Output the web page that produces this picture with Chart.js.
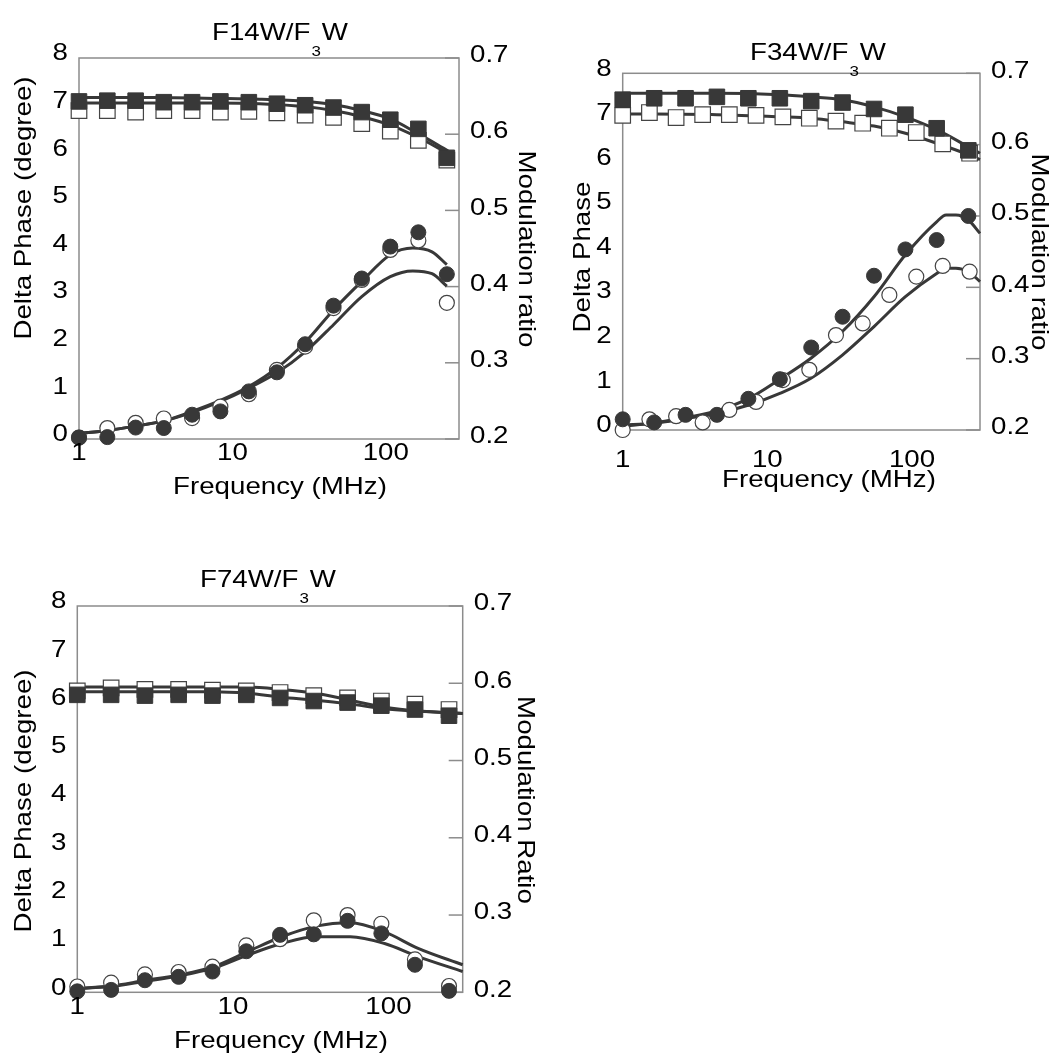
<!DOCTYPE html>
<html>
<head>
<meta charset="utf-8">
<title>Delta phase and modulation ratio vs frequency</title>
<script src="https://cdn.jsdelivr.net/npm/chart.js@4.4.1/dist/chart.umd.min.js"></script>
<style>
  body { margin: 0; background: #fff; }
  #wrap { position: relative; width: 1054px; height: 1063px; }
  canvas { position: absolute; }
</style>
</head>
<body>
<div id="wrap">
  <canvas id="c14" style="left:0;top:0" width="545" height="505"></canvas>
  <canvas id="c34" style="left:540px;top:0" width="514" height="500"></canvas>
  <canvas id="c74" style="left:0;top:530px" width="545" height="533"></canvas>
</div>
<script>
// modulation frequencies (MHz)
const freqA = [1, 1.53, 2.34, 3.57, 5.46, 8.35, 12.8, 19.5, 29.8, 45.6, 69.7, 107, 163, 250];
const freqB = [1, 1.65, 2.72, 4.48, 7.39, 12.2, 20.1, 33.1, 54.6, 90, 148, 245];
const xTickValues = [1, 10, 100];

// F14W/F3W
const p1SqFilled = [0.643, 0.644, 0.644, 0.642, 0.642, 0.643, 0.642, 0.640, 0.638, 0.635, 0.629, 0.619, 0.607, 0.569];
const p1SqOpen = [0.631, 0.631, 0.629, 0.631, 0.631, 0.629, 0.630, 0.628, 0.625, 0.622, 0.614, 0.604, 0.592, 0.566];
const p1CircFilled = [0.03, 0.04, 0.24, 0.23, 0.51, 0.58, 1.00, 1.40, 1.99, 2.80, 3.37, 4.04, 4.34, 3.46];
const p1CircOpen = [0.03, 0.23, 0.34, 0.43, 0.44, 0.68, 0.94, 1.45, 1.94, 2.75, 3.34, 3.97, 4.17, 2.86];
const p1SqFitF = [1, 3, 8, 15, 30.5, 45.6, 69.7, 107, 158, 255];
const p1SqFitHi = [0.648, 0.648, 0.647, 0.646, 0.643, 0.639, 0.631, 0.620, 0.602, 0.578];
const p1SqFitLo = [0.641, 0.641, 0.641, 0.640, 0.636, 0.631, 0.623, 0.612, 0.597, 0.575];
const p1CircFitF = [1, 1.53, 2.34, 3.57, 5.46, 8.35, 12.8, 19.5, 29.8, 45.6, 69.7, 107, 150, 200, 250];
const p1CircFitHi = [0.12, 0.18, 0.27, 0.38, 0.58, 0.81, 1.10, 1.49, 2.03, 2.71, 3.31, 3.87, 4.01, 3.93, 3.66];
const p1CircFitLo = [0.12, 0.18, 0.27, 0.38, 0.56, 0.79, 1.07, 1.39, 1.83, 2.40, 2.99, 3.41, 3.53, 3.47, 3.21];

// F34W/F3W
const p2SqFilled = [0.663, 0.665, 0.665, 0.667, 0.665, 0.665, 0.661, 0.659, 0.650, 0.642, 0.623, 0.592];
const p2SqOpen = [0.641, 0.645, 0.638, 0.642, 0.642, 0.641, 0.639, 0.637, 0.633, 0.630, 0.623, 0.617, 0.601, 0.588];
const p2CircFilled = [0.24, 0.17, 0.34, 0.34, 0.70, 1.14, 1.85, 2.54, 3.46, 4.05, 4.26, 4.80];
const p2CircOpen = [0.00, 0.24, 0.31, 0.17, 0.45, 0.63, 1.12, 1.35, 2.13, 2.39, 3.03, 3.44, 3.68, 3.55];
const p2SqFitF = [1, 4.47, 12.2, 20, 33, 54.6, 90, 148, 245, 295];
const p2SqFitHi = [0.672, 0.672, 0.670, 0.667, 0.663, 0.653, 0.639, 0.621, 0.597, 0.588];
const p2SqFitLo = [0.643, 0.642, 0.639, 0.637, 0.632, 0.626, 0.616, 0.602, 0.586, 0.579];
const p2CircFitF = [1, 1.65, 2.74, 4.47, 7.44, 12.2, 20, 33, 54.6, 90, 148, 172, 201, 245, 295];
const p2CircFitHi = [0.11, 0.16, 0.28, 0.43, 0.71, 1.14, 1.61, 2.21, 2.99, 3.93, 4.67, 4.82, 4.82, 4.71, 4.41];
const p2CircFitLo = [0.09, 0.15, 0.26, 0.37, 0.56, 0.82, 1.16, 1.68, 2.32, 2.99, 3.51, 3.63, 3.63, 3.55, 3.33];

// F74W/F3W
const p3SqFilled = [0.585, 0.585, 0.584, 0.585, 0.584, 0.585, 0.581, 0.577, 0.575, 0.571, 0.566, 0.558];
const p3SqOpen = [0.590, 0.594, 0.592, 0.592, 0.591, 0.590, 0.588, 0.584, 0.581, 0.577, 0.573, 0.566];
const p3CircFilled = [0.02, 0.05, 0.25, 0.32, 0.43, 0.85, 1.19, 1.20, 1.48, 1.22, 0.57, 0.03];
const p3CircOpen = [0.12, 0.20, 0.37, 0.42, 0.53, 0.97, 1.10, 1.49, 1.60, 1.42, 0.68, 0.13];
const p3SqFitF = [1, 2.74, 7.5, 12.4, 20.6, 34.2, 56.8, 94.4, 155, 300];
const p3SqFitHi = [0.595, 0.595, 0.595, 0.595, 0.592, 0.587, 0.578, 0.569, 0.564, 0.561];
const p3SqFitLo = [0.589, 0.589, 0.589, 0.587, 0.582, 0.578, 0.573, 0.567, 0.564, 0.561];
const p3CircFitF = [1, 1.64, 2.66, 4.53, 7.5, 12.4, 20.6, 34.2, 56.8, 94.4, 155, 300];
const p3CircFitHi = [0.08, 0.13, 0.24, 0.36, 0.53, 0.84, 1.15, 1.37, 1.44, 1.25, 0.91, 0.57];
const p3CircFitLo = [0.08, 0.12, 0.22, 0.34, 0.50, 0.77, 1.01, 1.15, 1.15, 1.01, 0.74, 0.43];

const FONT_FAMILY = '"Liberation Sans", Arial, sans-serif';
const TEXT_SIZE = 24.5;
const TEXT_STRETCH = 1.13; // the lettering is a bit wider than Arial
const INK = '#383838';
const FRAME = '#8c8c8c';

function pts(xs, ys) {
  return xs.map((x, i) => ({ x: x, y: ys[i] }));
}

function marks(xs, ys, axis, shape, filled) {
  return {
    data: pts(xs, ys),
    yAxisID: axis,
    showLine: false,
    pointStyle: shape,
    pointRadius: shape === 'rect' ? 11 : 7.5,
    pointBackgroundColor: filled ? INK : '#fff',
    pointBorderColor: filled ? INK : '#444',
    pointBorderWidth: filled ? 1 : 1.2,
    clip: false,
    order: filled ? 1 : 2
  };
}

function fit(xs, ys, axis) {
  return {
    data: pts(xs, ys),
    yAxisID: axis,
    showLine: true,
    pointRadius: 0,
    borderColor: INK,
    borderWidth: 3,
    cubicInterpolationMode: 'monotone',
    fill: false,
    clip: false,
    order: 3
  };
}

function stretchedText(ctx, str, x, y, opt) {
  ctx.save();
  ctx.translate(x, y);
  if (opt.rotate) ctx.rotate(opt.rotate);
  ctx.scale(TEXT_STRETCH, 1);
  ctx.font = (opt.size || TEXT_SIZE) + 'px ' + FONT_FAMILY;
  ctx.textAlign = opt.align || 'center';
  ctx.textBaseline = opt.baseline || 'middle';
  ctx.fillStyle = '#000';
  ctx.fillText(str, 0, 0);
  ctx.restore();
}

function textWidth(ctx, str, size) {
  ctx.save();
  ctx.font = size + 'px ' + FONT_FAMILY;
  const w = ctx.measureText(str).width * TEXT_STRETCH;
  ctx.restore();
  return w;
}

// frame, inward ticks on the right axis, tick labels and titles
function panelDecor(p) {
  return {
    id: 'panelDecor',
    beforeDatasetsDraw(chart) {
      const { ctx, chartArea: a, scales } = chart;
      ctx.save();
      ctx.strokeStyle = FRAME;
      ctx.lineWidth = 1.5;
      ctx.strokeRect(a.left, a.top, a.right - a.left, a.bottom - a.top);
      scales.y2.ticks.forEach(t => {
        const py = scales.y2.getPixelForValue(t.value);
        ctx.beginPath();
        ctx.moveTo(a.right, py);
        ctx.lineTo(a.right - 14, py);
        ctx.stroke();
      });
      ctx.restore();
    },
    afterDraw(chart) {
      const { ctx, chartArea: a, scales } = chart;
      scales.y.ticks.forEach(t => {
        stretchedText(ctx, String(Math.round(t.value)), a.left - 11, scales.y.getPixelForValue(t.value) - 4.5, { align: 'right' });
      });
      scales.y2.ticks.forEach(t => {
        stretchedText(ctx, t.value.toFixed(1), a.right + 11, scales.y2.getPixelForValue(t.value) - 2.5, { align: 'left' });
      });
      scales.x.ticks.forEach(t => {
        stretchedText(ctx, String(t.value), scales.x.getPixelForValue(t.value), a.bottom + p.xLabelGap, {});
      });

      stretchedText(ctx, p.yTitle, p.yTitlePos[0], p.yTitlePos[1], { rotate: -Math.PI / 2 });
      stretchedText(ctx, p.y2Title, p.y2TitlePos[0], p.y2TitlePos[1], { rotate: Math.PI / 2 });
      stretchedText(ctx, 'Frequency (MHz)', p.xTitlePos[0], p.xTitlePos[1], {});

      // title with the dropped subscript
      const head = p.title[0], sub = p.title[1], tail = p.title[2];
      const hx = p.titlePos[0], hy = p.titlePos[1];
      const w1 = textWidth(ctx, head, TEXT_SIZE);
      const ws = textWidth(ctx, sub, 15);
      stretchedText(ctx, head, hx, hy, { align: 'left', baseline: 'alphabetic' });
      stretchedText(ctx, sub, hx + w1 + 1, hy + 15.5, { align: 'left', baseline: 'alphabetic', size: 15 });
      stretchedText(ctx, tail, hx + w1 + ws + 2, hy, { align: 'left', baseline: 'alphabetic' });
    }
  };
}

function makePanel(p) {
  const canvas = document.getElementById(p.id);
  const W = canvas.width, H = canvas.height, a = p.area;
  new Chart(canvas, {
    type: 'scatter',
    data: { datasets: p.datasets },
    options: {
      responsive: false,
      animation: false,
      devicePixelRatio: 1,
      layout: { padding: { top: a.top, left: 0, right: 0, bottom: 0 } },
      plugins: { legend: { display: false }, tooltip: { enabled: false } },
      scales: {
        x: {
          type: 'logarithmic',
          position: 'bottom',
          min: 1,
          max: p.xMax,
          grid: { display: false, drawTicks: false },
          border: { display: false },
          ticks: { display: false },
          afterBuildTicks: s => { s.ticks = xTickValues.map(v => ({ value: v })); },
          afterFit: s => { s.height = H - a.bottom; }
        },
        y: {
          position: 'left',
          min: 0,
          max: 8,
          grid: { display: false, drawTicks: false },
          border: { display: false },
          ticks: { display: false, stepSize: 1 },
          afterFit: s => { s.width = a.left; }
        },
        y2: {
          position: 'right',
          min: 0.2,
          max: 0.7,
          grid: { display: false, drawTicks: false },
          border: { display: false },
          ticks: { display: false, stepSize: 0.1 },
          afterFit: s => { s.width = W - a.right; }
        }
      }
    },
    plugins: [panelDecor(p)]
  });
}

makePanel({
  id: 'c14',
  area: { left: 79, right: 459, top: 58, bottom: 439 },
  xMax: 300,
  xLabelGap: 14,
  title: ['F14W/F', '3', 'W'],
  titlePos: [212, 40],
  yTitle: 'Delta Phase (degree)', yTitlePos: [24, 208],
  y2Title: 'Modulation ratio', y2TitlePos: [526, 249],
  xTitlePos: [280, 487],
  datasets: [
    fit(p1SqFitF, p1SqFitHi, 'y2'),
    fit(p1SqFitF, p1SqFitLo, 'y2'),
    fit(p1CircFitF, p1CircFitHi, 'y'),
    fit(p1CircFitF, p1CircFitLo, 'y'),
    marks(freqA, p1SqOpen, 'y2', 'rect', false),
    marks(freqA, p1CircOpen, 'y', 'circle', false),
    marks(freqA, p1SqFilled, 'y2', 'rect', true),
    marks(freqA, p1CircFilled, 'y', 'circle', true)
  ]
});

makePanel({
  id: 'c34',
  area: { left: 82.7, right: 440, top: 73.3, bottom: 430 },
  xMax: 295,
  xLabelGap: 30,
  title: ['F34W/F', '3', 'W'],
  titlePos: [210, 60],
  yTitle: 'Delta Phase', yTitlePos: [43, 257],
  y2Title: 'Modulation ratio', y2TitlePos: [499, 252],
  xTitlePos: [289, 480],
  datasets: [
    fit(p2SqFitF, p2SqFitHi, 'y2'),
    fit(p2SqFitF, p2SqFitLo, 'y2'),
    fit(p2CircFitF, p2CircFitHi, 'y'),
    fit(p2CircFitF, p2CircFitLo, 'y'),
    marks(freqA, p2SqOpen, 'y2', 'rect', false),
    marks(freqA, p2CircOpen, 'y', 'circle', false),
    marks(freqB, p2SqFilled, 'y2', 'rect', true),
    marks(freqB, p2CircFilled, 'y', 'circle', true)
  ]
});

makePanel({
  id: 'c74',
  area: { left: 77.3, right: 462.7, top: 76, bottom: 462.3 },
  xMax: 300,
  xLabelGap: 15,
  title: ['F74W/F', '3', 'W'],
  titlePos: [200, 57],
  yTitle: 'Delta Phase (degree)', yTitlePos: [24, 271],
  y2Title: 'Modulation Ratio', y2TitlePos: [525, 270],
  xTitlePos: [281, 511],
  datasets: [
    fit(p3SqFitF, p3SqFitHi, 'y2'),
    fit(p3SqFitF, p3SqFitLo, 'y2'),
    fit(p3CircFitF, p3CircFitHi, 'y'),
    fit(p3CircFitF, p3CircFitLo, 'y'),
    marks(freqB, p3SqOpen, 'y2', 'rect', false),
    marks(freqB, p3CircOpen, 'y', 'circle', false),
    marks(freqB, p3SqFilled, 'y2', 'rect', true),
    marks(freqB, p3CircFilled, 'y', 'circle', true)
  ]
});
</script>
</body>
</html>
